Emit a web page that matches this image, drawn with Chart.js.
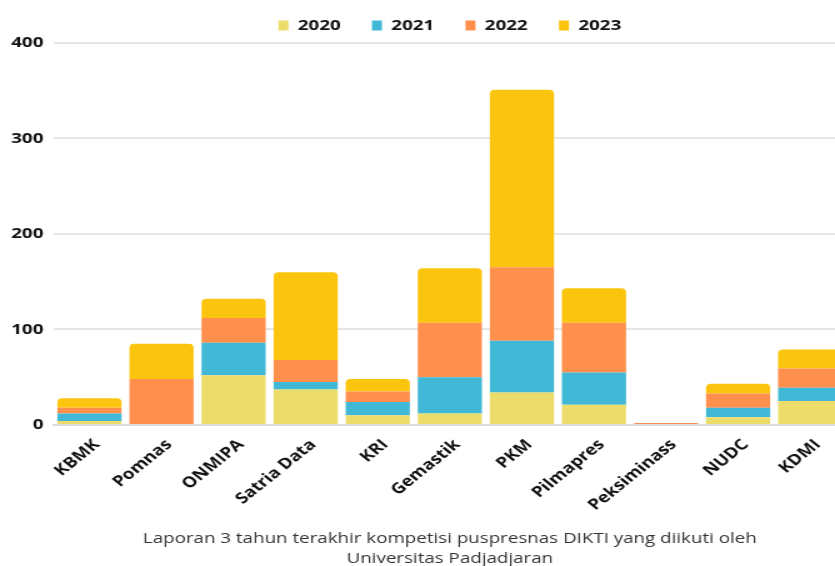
<!DOCTYPE html>
<html>
<head>
<meta charset="utf-8">
<script src="https://cdn.jsdelivr.net/npm/chart.js@4.4.1/dist/chart.umd.min.js"></script>
<style>
    html, body { margin: 0; padding: 0; background: #fff; overflow: hidden; }
    #wrap { width: 850px; height: 566px; }
    /* gambar asli tampak melebar ~1.25x, jadi kanvas 680px ditarik ke 850px */
    #chart { width: 850px; height: 566px; display: block; }
</style>
</head>
<body>
<div id="wrap"><canvas id="chart" width="680" height="566" style="width:850px;height:566px"></canvas></div>
<script>
// kategori lomba
const categories = ['KBMK', 'Pomnas', 'ONMIPA', 'Satria Data', 'KRI', 'Gemastik', 'PKM', 'Pilmapres', 'Peksiminass', 'NUDC', 'KDMI']

// jumlah per tahun
const y2020 = [4, 0, 52, 37, 10, 12, 34, 21, 0, 8, 25]
const y2021 = [8, 0, 34, 8, 14, 38, 54, 34, 0, 10, 14]
const y2022 = [6, 48, 26, 23, 11, 57, 77, 52, 2, 15, 20]
const y2023 = [10, 37, 20, 92, 13, 57, 186, 36, 0, 10, 20]

const years = ['2020', '2021', '2022', '2023']
const colors = ['#ecdc6c', '#41b8d6', '#ff8f4c', '#fbc40e']
const series = [y2020, y2021, y2022, y2023]

const yTicks = [0, 100, 200, 300, 400]

// segmen teratas yang tidak nol -> sudut atas membulat
function topRadius(ctx) {
    const i = ctx.dataIndex, d = ctx.datasetIndex
    for (let k = series.length - 1; k > d; k--) {
        if (series[k][i] > 0) return 0
    }
    return {topLeft: 4, topRight: 4, bottomLeft: 0, bottomRight: 0}
}

const datasets = years.map((y, n) => ({
    label: y,
    data: series[n],
    backgroundColor: colors[n],
    borderRadius: topRadius,
    borderSkipped: false,
    categoryPercentage: 0.89,
    barPercentage: 1
}))

const font = {family: '"Open Sans", sans-serif', weight: 'bold', size: 15}

const canvas = document.getElementById('chart')
new Chart(canvas, {
    type: 'bar',
    data: {labels: categories, datasets: datasets},
    options: {
        responsive: false,
        animation: false,
        devicePixelRatio: 1,
        layout: {padding: {left: 1, right: 3, top: -7, bottom: -3}},
        plugins: {
            legend: {
                position: 'top',
                fullSize: false,
                maxHeight: 52,
                labels: {
                    boxWidth: 8,
                    boxHeight: 10,
                    padding: 25,
                    color: '#111',
                    font: font
                }
            },
            title: {
                display: true,
                position: 'bottom',
                fullSize: false,
                text: ['Laporan 3 tahun terakhir kompetisi puspresnas DIKTI yang diikuti oleh', 'Universitas Padjadjaran'],
                color: '#333',
                font: {family: '"Open Sans", sans-serif', weight: 'normal', size: 15, lineHeight: 1.36},
                padding: {top: 3, bottom: 0}
            },
            tooltip: {enabled: false}
        },
        scales: {
            x: {
                stacked: true,
                grid: {display: false, drawTicks: false},
                border: {display: true, color: '#dcdcdc', width: 2},
                ticks: {
                    color: '#111',
                    font: font,
                    minRotation: 45,
                    maxRotation: 45,
                    padding: 11,
                    labelOffset: 6,
                    autoSkip: false
                }
            },
            y: {
                stacked: true,
                min: 0,
                max: 400,
                afterBuildTicks: axis => { axis.ticks = yTicks.map(v => ({value: v})) },
                grid: {color: '#e6e6e6', lineWidth: 2, drawTicks: false},
                border: {display: false},
                ticks: {color: '#111', font: font, padding: 8}
            }
        }
    }
})
canvas.style.width = '850px'
canvas.style.height = '566px'
</script>
</body>
</html>
